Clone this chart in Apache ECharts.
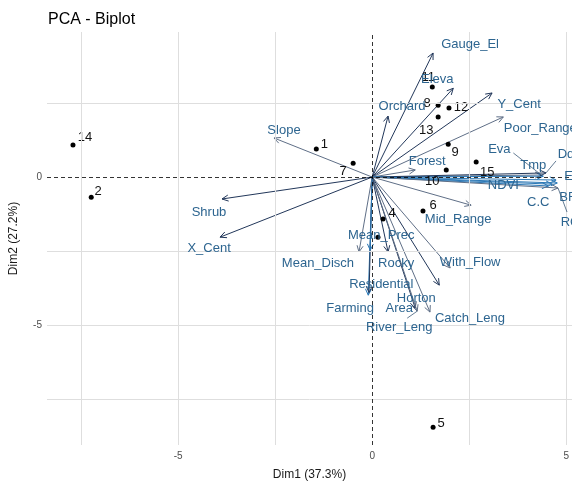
<!DOCTYPE html>
<html lang="en">
<head>
    <meta charset="UTF-8">
    <title>PCA - Biplot</title>
    <script src="https://cdn.jsdelivr.net/npm/echarts@6/dist/echarts.min.js"></script>
    <style>
        html, body { margin: 0; padding: 0; background: #fff; }
    </style>
</head>
<body>
    <div id="main" style="width:572px;height:483px;"></div>
    <script type="text/javascript">
        // individuals (sites)
        var obsNames = ['1', '2', '3', '4', '5', '6', '7', '8', '9', '10', '11', '12', '13', '14', '15'];
        var obsDim1 = [-1.44, -7.24, 0.15, 0.28, 1.57, 1.31, -0.49, 1.70, 1.96, 1.91, 1.55, 1.98, 1.70, -7.71, 2.68];
        var obsDim2 = [0.95, -0.68, -2.03, -1.42, -8.45, -1.15, 0.47, 2.43, 1.11, 0.24, 3.04, 2.33, 2.03, 1.08, 0.51];

        // variables (loadings, scaled)
        var varNames = ['Gauge_El', 'Eleva', 'Orchard', 'Y_Cent', 'Poor_Range', 'Forest', 'Eva', 'Tmp', 'Dd', 'El',
            'NDVI', 'BR', 'C.C', 'RC', 'Mid_Range', 'With_Flow', 'Horton', 'Catch_Leng', 'Area', 'River_Leng',
            'Rocky', 'Residential', 'Farming', 'Mean_Disch', 'Mean_Prec', 'Slope', 'Shrub', 'X_Cent'];
        var varDim1 = [1.57, 2.09, 0.41, 3.09, 3.38, 1.11, 4.36, 4.41, 4.48, 4.74,
            4.54, 4.77, 4.64, 4.79, 2.55, 2.01, 1.73, 1.49, 1.11, 1.16,
            0.41, -0.10, -0.08, -0.34, -0.05, -2.53, -3.87, -3.92];
        var varDim2 = [4.19, 3.00, 2.06, 2.84, 2.03, 0.24, 0.07, 0.03, 0.14, -0.10,
            -0.30, -0.20, -0.24, -0.37, -0.95, -3.07, -3.65, -4.56, -4.43, -4.53,
            -2.53, -3.99, -3.90, -2.53, -2.47, 1.32, -0.74, -2.03];

        var xTicks = [-5, 0, 5];
        var yTicks = [-5, 0];
        var xGrid = [-7.5, -5, -2.5, 2.5, 5];
        var yGrid = [-7.5, -5, -2.5, 2.5];

        // label placement (pixel offsets from arrow tip), repel-like
        var varLabelOff = {
            'Gauge_El': [37, -9], 'Eleva': [-16, -9], 'Orchard': [14, -10], 'Y_Cent': [27, 11],
            'Poor_Range': [37, 11], 'Forest': [12, -9], 'Eva': [-42, -26], 'Tmp': [-10, -11],
            'Dd': [20, -19], 'El': [14, -4], 'NDVI': [-45, -1], 'BR': [11, 14], 'C.C': [-14, 18],
            'RC': [12, 34], 'Mid_Range': [-13, 14], 'With_Flow': [20, -6], 'Horton': [-23, 13],
            'Catch_Leng': [40, 6], 'Area': [-16, 0], 'River_Leng': [-18, 16], 'Rocky': [8, 11],
            'Residential': [13, -11], 'Farming': [-19, 16], 'Mean_Disch': [-41, 11],
            'Mean_Prec': [11, -15], 'Slope': [10, -8], 'Shrub': [-13, 13], 'X_Cent': [-11, 11]
        };
        var leaders = {
            'Eva': [-28, -22], 'Dd': [10, -12], 'RC': [9, 24], 'River_Leng': [-10, 7]
        };
        var obsLabelOff = {
            '1': [8, -5], '2': [7, -6], '4': [9, -6], '5': [8, -4], '6': [10, -6], '7': [-10, 8],
            '8': [-11, -2], '9': [7, 8], '10': [-14, 11], '11': [-4, -10], '12': [12, -1],
            '13': [-12, 13], '14': [12, -8], '15': [11, 10]
        };

        var navy = '#22375a', slate = '#5f6f87', blue = '#2b78b6';
        var blueVars = ['Tmp', 'El', 'NDVI', 'BR', 'C.C', 'Residential', 'Mean_Prec'];
        var slateVars = ['Poor_Range', 'Forest', 'Slope', 'Mid_Range', 'With_Flow', 'Catch_Leng',
            'River_Leng', 'Mean_Disch', 'Eva', 'RC'];
        function arrowColor(name) {
            if (blueVars.indexOf(name) >= 0) return blue;
            if (slateVars.indexOf(name) >= 0) return slate;
            return navy;
        }
        var labelColor = '#2d6590';
        var font = 'Liberation Sans, Arial, sans-serif';

        var varData = varNames.map(function (n, i) { return [varDim1[i], varDim2[i], i]; });
        var obsData = obsNames.map(function (n, i) { return [obsDim1[i], obsDim2[i], i]; });

        function renderArrow(params, api) {
            var i = api.value(2);
            var o = api.coord([0, 0]);
            var t = api.coord([api.value(0), api.value(1)]);
            var ang = Math.atan2(t[1] - o[1], t[0] - o[0]);
            var L = 7, a = 0.45;
            var h1 = [t[0] - L * Math.cos(ang - a), t[1] - L * Math.sin(ang - a)];
            var h2 = [t[0] - L * Math.cos(ang + a), t[1] - L * Math.sin(ang + a)];
            var c = arrowColor(varNames[i]);
            return {
                type: 'group',
                children: [
                    { type: 'line', shape: { x1: o[0], y1: o[1], x2: t[0], y2: t[1] },
                      style: { stroke: c, lineWidth: 1 } },
                    { type: 'polyline', shape: { points: [h1, t, h2] },
                      style: { stroke: c, lineWidth: 1, fill: null } }
                ]
            };
        }

        function renderVarLabel(params, api) {
            var i = api.value(2);
            var name = varNames[i];
            var t = api.coord([api.value(0), api.value(1)]);
            var off = varLabelOff[name] || [0, 0];
            var children = [];
            if (leaders[name]) {
                var lo = leaders[name];
                children.push({ type: 'line',
                    shape: { x1: t[0], y1: t[1], x2: t[0] + lo[0], y2: t[1] + lo[1] },
                    style: { stroke: '#3c5a78', lineWidth: 0.8 } });
            }
            children.push({ type: 'text', style: {
                text: name, x: t[0] + off[0], y: t[1] + off[1],
                fill: labelColor, fontSize: 13, fontFamily: font,
                align: 'center', verticalAlign: 'middle'
            } });
            return { type: 'group', children: children };
        }

        var myChart = echarts.init(document.getElementById('main'));
        var option = {
            animation: false,
            backgroundColor: '#ffffff',
            title: {
                text: 'PCA - Biplot',
                left: 43, top: 7,
                textStyle: { fontSize: 16, fontWeight: 'normal', color: '#000', fontFamily: font }
            },
            grid: { left: 47, right: 0, top: 32, bottom: 38, containLabel: false, outerBoundsMode: 'none' },
            xAxis: {
                type: 'value', min: -8.38, max: 5.15,
                name: 'Dim1 (37.3%)', nameLocation: 'middle', nameGap: 24,
                nameTextStyle: { fontSize: 12, color: '#1a1a1a', fontFamily: font },
                axisLine: { show: false },
                axisTick: { show: true, length: 3, customValues: xTicks, lineStyle: { color: '#333' } },
                axisLabel: { customValues: xTicks, margin: 6, fontSize: 10, color: '#4d4d4d', fontFamily: font },
                splitLine: { show: false }
            },
            yAxis: {
                type: 'value', min: -9.05, max: 4.9,
                name: 'Dim2 (27.2%)', nameLocation: 'middle', nameGap: 27,
                nameTextStyle: { fontSize: 12, color: '#1a1a1a', fontFamily: font },
                axisLine: { show: false },
                axisTick: { show: true, length: 3, customValues: yTicks, lineStyle: { color: '#333' } },
                axisLabel: { customValues: yTicks, margin: 5, fontSize: 10, color: '#4d4d4d', fontFamily: font },
                splitLine: { show: false }
            },
            series: [
                {
                    type: 'line', data: [], silent: true, z: 1,
                    markLine: {
                        silent: true, symbol: 'none', label: { show: false },
                        lineStyle: { color: '#dedede', type: 'solid', width: 1 },
                        data: xGrid.map(function (v) { return { xAxis: v }; })
                            .concat(yGrid.map(function (v) { return { yAxis: v }; }))
                    }
                },
                {
                    type: 'line', data: [], silent: true, z: 2,
                    markLine: {
                        silent: true, symbol: 'none', label: { show: false },
                        lineStyle: { color: '#000', type: [4, 3], width: 0.8 },
                        data: [{ xAxis: 0 }, { yAxis: 0 }]
                    }
                },
                {
                    type: 'custom', renderItem: renderArrow, data: varData, z: 3, silent: true
                },
                {
                    type: 'scatter', data: obsData, z: 4, symbolSize: 5, silent: true,
                    itemStyle: { color: '#000', opacity: 1 },
                    label: {
                        show: true, position: 'inside', color: '#111', fontSize: 13, fontFamily: font,
                        formatter: function (p) { return p.value[2] === 2 ? '' : obsNames[p.value[2]]; }
                    },
                    labelLayout: function (p) {
                        var n = obsNames[p.dataIndex];
                        var off = obsLabelOff[n] || [8, -5];
                        return { x: p.rect.x + p.rect.width / 2 + off[0], y: p.rect.y + p.rect.height / 2 + off[1],
                                 align: 'center', verticalAlign: 'middle' };
                    }
                },
                {
                    type: 'custom', renderItem: renderVarLabel, data: varData, z: 5, silent: true
                }
            ]
        };
        myChart.setOption(option);
    </script>
</body>
</html>
